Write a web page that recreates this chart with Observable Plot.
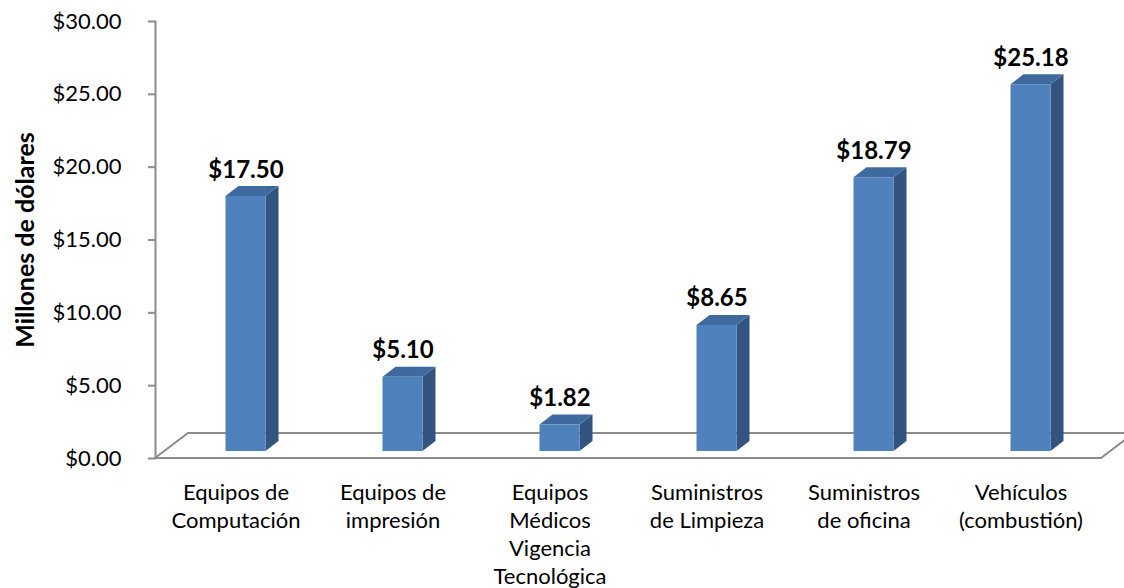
<!DOCTYPE html>
<html>
<head>
<meta charset="utf-8">
<script src="https://cdn.jsdelivr.net/npm/d3@7"></script>
<script src="https://cdn.jsdelivr.net/npm/@observablehq/plot@0.6"></script>
<style>
  html, body { margin: 0; padding: 0; background: #ffffff; }
  #chart { width: 1124px; height: 588px; }
</style>
</head>
<body>
<div id="chart"></div>
<script>
// ---- data ----
const categories = [
  "Equipos de Computación",
  "Equipos de impresión",
  "Equipos Médicos Vigencia Tecnológica",
  "Suministros de Limpieza",
  "Suministros de oficina",
  "Vehículos (combustión)"
];
const categoryLabels = [
  "Equipos de\nComputación",
  "Equipos de\nimpresión",
  "Equipos\nMédicos\nVigencia\nTecnológica",
  "Suministros\nde Limpieza",
  "Suministros\nde oficina",
  "Vehículos\n(combustión)"
];
const values = [17.50, 5.10, 1.82, 8.65, 18.79, 25.18];
const yTicks = [0, 5, 10, 15, 20, 25, 30];
const yTitle = "Millones de dólares";

const table = categories.map((c, i) => ({cat: c, label: categoryLabels[i], value: values[i]}));

// ---- 3D styling constants ----
const FRONT = "#4f81bd", TOP = "#3f6a9f", SIDE = "#32547f";
const GRID = "#8c8c8c";
const BAR_W = 40, BAR_SHIFT = 10, BASE_LIFT = 7;
const DEPTH_X = 13, DEPTH_Y = 10;
const FLOOR_X = 33, FLOOR_Y = 25;
const SVGNS = "http://www.w3.org/2000/svg";

function poly(g, pts, fill) {
  const p = document.createElementNS(SVGNS, "polygon");
  p.setAttribute("points", pts.map(d => d.join(",")).join(" "));
  p.setAttribute("fill", fill);
  g.appendChild(p);
}

function renderBars(index, scales, vals, dims) {
  const g = document.createElementNS(SVGNS, "g");
  const bw = scales.x.bandwidth ? scales.x.bandwidth() : (dims.width - dims.marginLeft - dims.marginRight) / categories.length;
  for (const i of index) {
    const d = table[i];
    const cx = scales.x(d.cat) + bw / 2 + BAR_SHIFT;
    const l = cx - BAR_W / 2, r = cx + BAR_W / 2;
    const t = scales.y(d.value) - BASE_LIFT, b = scales.y(0) - BASE_LIFT;
    poly(g, [[r, t], [r + DEPTH_X, t - DEPTH_Y], [r + DEPTH_X, b - DEPTH_Y], [r, b]], SIDE);
    poly(g, [[l, t], [l + DEPTH_X, t - DEPTH_Y], [r + DEPTH_X, t - DEPTH_Y], [r, t]], TOP);
    poly(g, [[l, t], [r, t], [r, b], [l, b]], FRONT);
  }
  return g;
}

function renderFloor(index, scales, vals, dims) {
  const g = document.createElementNS(SVGNS, "g");
  const left = dims.marginLeft, right = dims.width - dims.marginRight;
  const y0 = scales.y(0);
  const p = document.createElementNS(SVGNS, "polygon");
  p.setAttribute("points", [[left, y0], [left + FLOOR_X, y0 - FLOOR_Y], [right + FLOOR_X, y0 - FLOOR_Y], [right, y0]].map(d => d.join(",")).join(" "));
  p.setAttribute("fill", "none");
  p.setAttribute("stroke", GRID);
  p.setAttribute("stroke-width", 2);
  g.appendChild(p);
  return g;
}

const chart = Plot.plot({
  width: 1124,
  height: 588,
  marginLeft: 155,
  marginRight: 23,
  marginTop: 21,
  marginBottom: 130,
  style: {fontFamily: "Lato, 'Open Sans', sans-serif", fontSize: "22px", background: "#ffffff", color: "#000", overflow: "hidden"},
  x: {domain: categories, padding: 0, axis: null},
  y: {domain: [0, 30], axis: null},
  marks: [
    Plot.frame({render: renderFloor}),
    Plot.axisY({
      ticks: yTicks,
      tickFormat: d => "$" + d.toFixed(2),
      tickSize: 7,
      tickPadding: 27,
      stroke: GRID,
      strokeWidth: 2,
      fill: "#000",
      fontSize: 22,
      label: null
    }),
    Plot.frame({anchor: "left", stroke: GRID, strokeWidth: 2}),
    Plot.barY(table, {x: "cat", y: "value", render: renderBars}),
    Plot.text(table, {
      x: "cat", y: "value", text: d => "$" + d.value.toFixed(2),
      dx: BAR_SHIFT, dy: -26, lineAnchor: "bottom",
      fontWeight: "bold", fontSize: 24, fill: "#000"
    }),
    Plot.text(table, {
      x: "cat", text: "label", frameAnchor: "bottom",
      lineAnchor: "top", dy: 22, lineHeight: 1.27,
      fontSize: 22, fill: "#000"
    }),
    Plot.text([yTitle], {
      text: d => d, frameAnchor: "left", rotate: -90, textAnchor: "middle",
      dx: -130, fontWeight: "bold", fontSize: 25, fill: "#000"
    })
  ]
});

document.getElementById("chart").appendChild(chart);
</script>
</body>
</html>
